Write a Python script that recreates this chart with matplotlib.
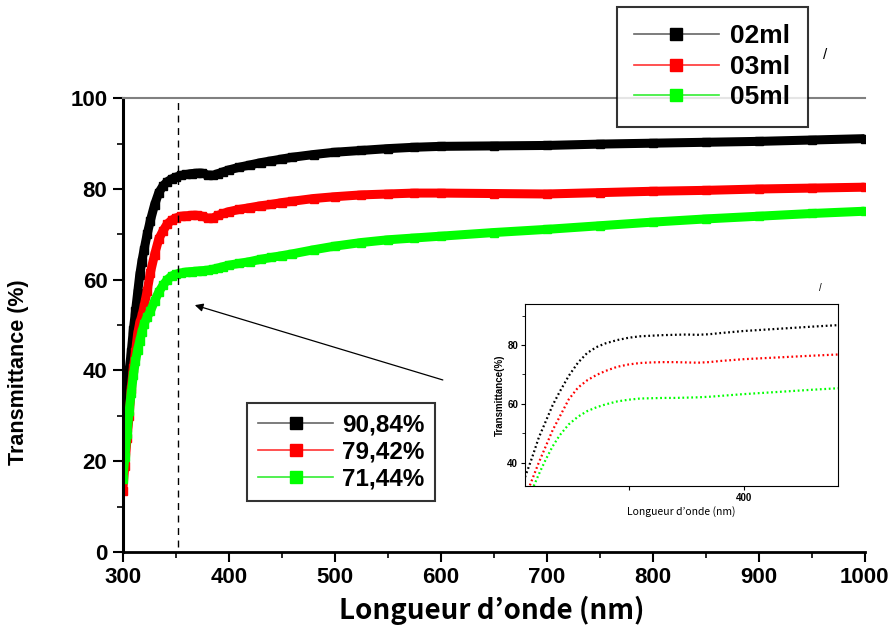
import matplotlib
matplotlib.use("Agg")
import matplotlib.pyplot as plt
from matplotlib.lines import Line2D
from matplotlib.ticker import MultipleLocator

# wavelength grid (nm) and transmittance (%)
wl = [300, 302, 304, 306, 308, 310, 312, 314, 316, 318, 320, 323, 326, 330, 334,
      338, 342, 346, 350, 355, 360, 365, 370, 375, 380, 385, 390, 395, 400, 410,
      420, 430, 440, 450, 460, 480, 500, 525, 550, 575, 600, 650, 700, 750, 800,
      850, 900, 950, 1000]
t_02 = [25, 31, 37, 40, 44, 49, 53, 57, 61, 64, 66.5, 70, 73, 76.5, 79.2,
        80.7, 81.6, 82.2, 82.6, 83, 83.2, 83.4, 83.5, 83.5, 83.1, 83, 83.4, 83.8, 84.2, 84.8,
        85.3, 85.8, 86.2, 86.6, 87, 87.6, 88.1, 88.5, 88.9, 89.2, 89.4, 89.5, 89.6, 89.9, 90.1,
        90.3, 90.5, 90.8, 91.1]
t_03 = [13.5, 19, 25, 30, 36, 40.5, 44, 48, 50.5, 52, 54, 57.5, 61.5, 65.5, 69,
        70.8, 72.3, 73.1, 73.6, 74, 74.1, 74.2, 74.2, 74, 73.6, 73.6, 74.2, 74.6, 75, 75.5,
        75.9, 76.3, 76.6, 77, 77.3, 77.9, 78.3, 78.7, 78.9, 79.1, 79.1, 79, 78.9, 79.2, 79.5,
        79.7, 80, 80.2, 80.4]
t_05 = [16, 21, 26, 31, 35, 39, 42, 44.5, 46.5, 48.5, 50.2, 51.8, 53, 55.3, 57.3,
        58.8, 60, 60.8, 61.2, 61.5, 61.7, 61.8, 61.9, 62, 62.1, 62.3, 62.6, 62.9, 63.2, 63.6,
        64, 64.5, 64.9, 65.3, 65.7, 66.6, 67.4, 68.2, 68.8, 69.2, 69.6, 70.4, 71.1, 71.9, 72.7,
        73.4, 74, 74.6, 75.1]

# zoomed inset
wl_in = [305, 308, 311, 314, 317, 320, 324, 328, 332, 336, 340, 345, 350, 355, 360,
         365, 370, 375, 380, 385, 390, 400, 410, 420, 430, 441]
t_02_in = [35, 41.5, 48.5, 54, 59.5, 64, 69.5, 74, 77.3, 79.3, 80.6, 81.7, 82.5, 83, 83.2,
           83.4, 83.5, 83.6, 83.5, 83.7, 84.1, 84.8, 85.3, 85.8, 86.3, 86.8]
t_03_in = [28, 34, 40, 45.5, 51, 55.5, 61.5, 65.5, 68, 69.8, 71.2, 72.6, 73.4, 73.9, 74.1,
           74.2, 74.2, 74.1, 74, 74.2, 74.6, 75.2, 75.6, 76, 76.4, 76.8]
t_05_in = [25, 30.5, 36, 41, 45.5, 49.2, 53, 55.6, 57.5, 58.8, 59.8, 60.8, 61.4, 61.8, 61.9,
           62, 62, 62.1, 62.2, 62.4, 62.7, 63.3, 63.8, 64.3, 64.8, 65.3]

labels = ["02ml", "03ml", "05ml"]
max_t = ["90,84%", "79,42%", "71,44%"]
colors = ["#000000", "#ff0000", "#00ff00"]
leg_line = ["#666666", "#ff3333", "#33ee33"]
cut_wl = 352

NARROW = ["Liberation Sans Narrow", "Liberation Sans", "DejaVu Sans"]
ARIAL = ["Liberation Sans", "DejaVu Sans"]
GOTHIC = ["Noto Sans CJK JP", "DejaVu Sans"]

fig = plt.figure(figsize=(8.96, 6.3), dpi=100)
ax = fig.add_axes([0.137, 0.124, 0.828, 0.72])

for t, c in zip([t_02, t_03, t_05], colors):
    ax.plot(wl, t, color=c, lw=6.5, marker="s", ms=5.5, mec=c, mfc=c,
            solid_joinstyle="round", solid_capstyle="butt")

ax.set_xlim(300, 1000)
ax.set_ylim(0, 100)
ax.xaxis.set_major_locator(MultipleLocator(100))
ax.xaxis.set_minor_locator(MultipleLocator(50))
ax.yaxis.set_major_locator(MultipleLocator(20))
ax.yaxis.set_minor_locator(MultipleLocator(10))
ax.tick_params(which="major", direction="out", length=7, width=1.5, labelsize=16, pad=4)
ax.tick_params(which="minor", direction="out", length=4, width=1.2)
for lab in ax.get_xticklabels() + ax.get_yticklabels():
    lab.set_fontweight("bold")
    lab.set_family(ARIAL)

ax.spines["left"].set_linewidth(2.2)
ax.spines["bottom"].set_linewidth(2.0)
ax.spines["top"].set_color("#808080")
ax.spines["top"].set_linewidth(1.5)
ax.spines["right"].set_visible(False)

ax.set_ylabel("Transmittance (%)", fontsize=15.5, fontweight="bold", family=NARROW)
ax.yaxis.set_label_coords(-0.127, 0.396)
ax.set_xlabel("Longueur d\u2019onde (nm)", fontsize=20, fontweight="bold", family=GOTHIC,
              va="baseline")
ax.xaxis.set_label_coords(0.497, -0.148)

ax.axvline(cut_wl, ymin=0.01, ymax=1.0, color="black", lw=1, ls=(0, (5, 4)))
ax.annotate("", xy=(368, 54.4), xytext=(602, 37.9),
            arrowprops=dict(arrowstyle="-|>", color="black", lw=0.9,
                            mutation_scale=12, shrinkA=0, shrinkB=0))

# legends
h1 = [Line2D([], [], color=lc, lw=1.2, marker="s", ms=8, mfc=c, mec=c)
      for lc, c in zip(leg_line, colors)]
leg1 = fig.legend(h1, labels, loc="upper left", bbox_to_anchor=(617 / 896, 1 - 7 / 630),
                  bbox_transform=fig.transFigure, frameon=True, fancybox=False,
                  handlelength=3.2, handletextpad=0.45, labelspacing=0.25,
                  borderpad=0.65, borderaxespad=0,
                  prop=dict(family=ARIAL, weight="bold", size=19))
leg1.get_frame().set_edgecolor("black")
leg1.get_frame().set_linewidth(1.5)

h2 = [Line2D([], [], color=lc, lw=1.2, marker="s", ms=8, mfc=c, mec=c)
      for lc, c in zip(leg_line, colors)]
leg2 = fig.legend(h2, max_t, loc="upper left", bbox_to_anchor=(247 / 896, 1 - 403 / 630),
                  bbox_transform=fig.transFigure, frameon=True, fancybox=False,
                  handlelength=3.1, handletextpad=0.35, labelspacing=0.15,
                  borderpad=0.45, borderaxespad=0,
                  prop=dict(family=ARIAL, weight="bold", size=17.5))
leg2.get_frame().set_edgecolor("black")
leg2.get_frame().set_linewidth(1.5)

# inset
axi = fig.add_axes([525 / 896, 1 - 486 / 630, 313 / 896, 182 / 630])
for t, c in zip([t_02_in, t_03_in, t_05_in], colors):
    axi.plot(wl_in, t, color=c, lw=1.6, ls=(0, (0.8, 1.2)))
axi.set_xlim(305, 441)
axi.set_ylim(32, 94)
axi.set_xticks([350, 400])
axi.set_xticklabels(["", "400"])
axi.yaxis.set_major_locator(MultipleLocator(20))
axi.yaxis.set_minor_locator(MultipleLocator(10))
axi.tick_params(which="major", direction="out", length=3, width=0.8, labelsize=7, pad=2)
axi.tick_params(which="minor", direction="out", length=2, width=0.6)
for lab in axi.get_xticklabels() + axi.get_yticklabels():
    lab.set_fontweight("bold")
    lab.set_family(ARIAL)
for s in axi.spines.values():
    s.set_linewidth(0.8)
axi.set_ylabel("Transmittance(%)", fontsize=7, fontweight="bold", family=NARROW, labelpad=2)
axi.set_xlabel("Longueur d\u2019onde (nm)", fontsize=7.5, family=GOTHIC, labelpad=2)

fig.text(825 / 896, 1 - 55 / 630, "/", fontsize=11, family=ARIAL, ha="center", va="center")
fig.text(820 / 896, 1 - 288 / 630, "/", fontsize=7, family=ARIAL, ha="center", va="center")

fig.savefig("out.png", dpi=100)
